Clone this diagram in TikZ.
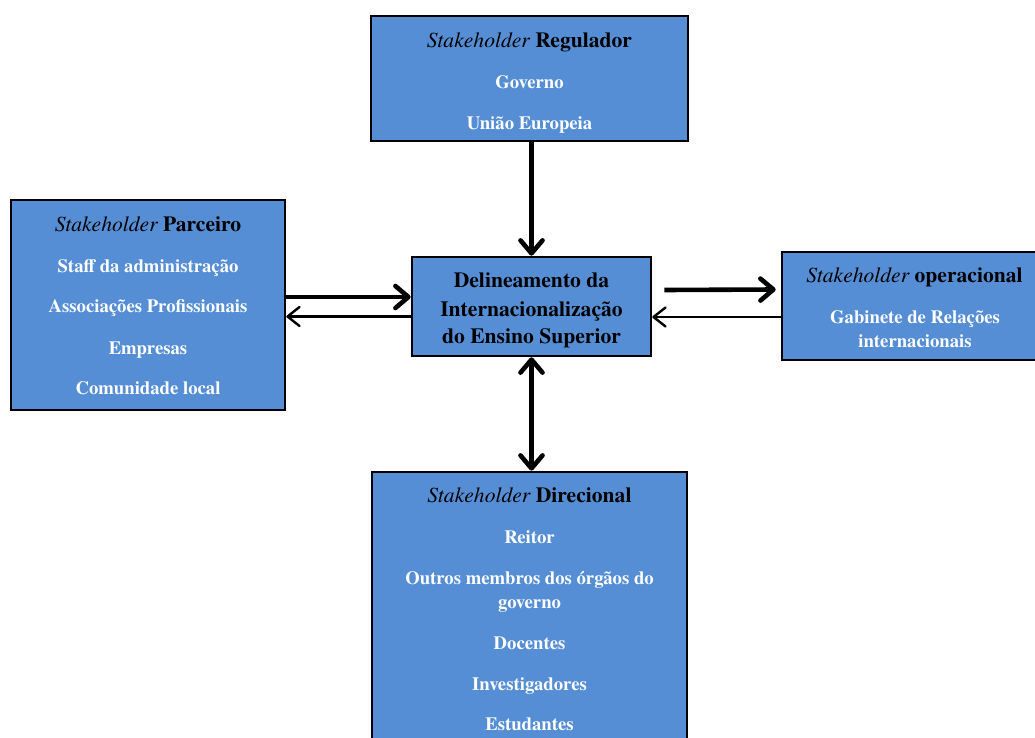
\documentclass[tikz,border=0pt]{standalone}
\usepackage{fontspec}
\setmainfont{texgyretermes}[Extension=.otf, UprightFont=*-regular, BoldFont=*-bold, ItalicFont=*-italic, BoldItalicFont=*-bolditalic]
\usetikzlibrary{arrows.meta}
\definecolor{boxblue}{RGB}{85,142,213}

\begin{document}
\begin{tikzpicture}[x=1pt,y=-1pt,
  box/.style={draw=black, line width=2.6pt, fill=boxblue, inner sep=0pt},
  ttl/.style={font=\fontsize{21.6}{26}\selectfont\bfseries, text=black, inner sep=0pt, anchor=base},
  itm/.style={font=\fontsize{18.7}{24}\selectfont\bfseries, text=white, inner sep=0pt, anchor=base},
  ctrtxt/.style={font=\fontsize{21.6}{28}\selectfont\bfseries, text=black, inner sep=0pt, anchor=base},
  bigarrow/.style={line width=4.6pt, -{Straight Barb[round, length=13pt, width=22pt]}},
  bigboth/.style={line width=4.6pt, {Straight Barb[round, length=13pt, width=22pt]}-{Straight Barb[round, length=13pt, width=22pt]}},
  smallarrow/.style={line width=2.4pt, -{Straight Barb[round, length=12pt, width=19pt]}}]
\useasboundingbox (0,0) rectangle (1035,738);
\clip (0,0) rectangle (1035,738);

% boxes
\node[box, minimum width=317pt, minimum height=125pt] (reg) at (529.5,78.5) {};
\node[box, minimum width=274pt, minimum height=210pt] (par) at (148,305) {};
\node[box, minimum width=239pt, minimum height=99pt]  (ctr) at (531.5,306.5) {};
\node[box, minimum width=268pt, minimum height=108pt] (opr) at (916,306) {};
\node[box, minimum width=315pt, minimum height=308pt] (dir) at (529.5,626) {};

% regulador
\node[ttl] (regT) at (529.5,47.3) {{\mdseries\itshape Stakeholder} Regulador};
\node[itm] (regA) at (529.5,89) {Governo};
\node[itm] (regB) at (529.5,129.3) {União Europeia};

% parceiro
\node[ttl] (parT) at (148,231) {{\mdseries\itshape Stakeholder} Parceiro};
\node[itm] (parA) at (148,272.7) {Staff da administração};
\node[itm] (parB) at (148,312.7) {Associações Profissionais};
\node[itm] (parC) at (148,354) {Empresas};
\node[itm] (parD) at (148,394) {Comunidade local};

% centre
\node[ctrtxt] (ctrA) at (531.5,287.7) {Delineamento da};
\node[ctrtxt] (ctrB) at (531.5,316) {Internacionalização};
\node[ctrtxt] (ctrC) at (531.5,343.5) {do Ensino Superior};

% operacional
\node[ttl] (oprT) at (914.5,282.3) {{\mdseries\itshape Stakeholder} operacional};
\node[itm] (oprA) at (915,323.3) {Gabinete de Relações};
\node[itm] (oprB) at (915,347.3) {internacionais};

% direcional
\node[ttl] (dirT) at (529.5,502.3) {{\mdseries\itshape Stakeholder} Direcional};
\node[itm] (dirA) at (529.5,543.3) {Reitor};
\node[itm] (dirB) at (529.5,584.3) {Outros membros dos órgãos do};
\node[itm] (dirC) at (529.5,608.3) {governo};
\node[itm] (dirD) at (529.5,649.3) {Docentes};
\node[itm] (dirE) at (529.5,690) {Investigadores};
\node[itm] (dirF) at (529.5,730.7) {Estudantes};

% connector anchors
\coordinate (lHi) at ([yshift=9.5pt]ctr.west);
\coordinate (lLo) at ([yshift=-10pt]ctr.west);
\coordinate (rHiS) at ([xshift=12pt,yshift=16.5pt]ctr.east);
\coordinate (rHiE) at ([xshift=-5pt,yshift=16.5pt]opr.west);
\coordinate (rLo) at ([yshift=-10.5pt]ctr.east);

% connectors
\draw[bigarrow] (reg.south -| ctr.north) -- (ctr.north);
\draw[bigboth] (ctr.south) -- (ctr.south |- dir.north);
\draw[bigarrow] (lHi -| par.east) -- (lHi);
\draw[smallarrow] (lLo) -- (lLo -| par.east);
\draw[bigarrow] (rHiS) -- (rHiE);
\draw[smallarrow] (rLo -| opr.west) -- (rLo);
\end{tikzpicture}
\end{document}
